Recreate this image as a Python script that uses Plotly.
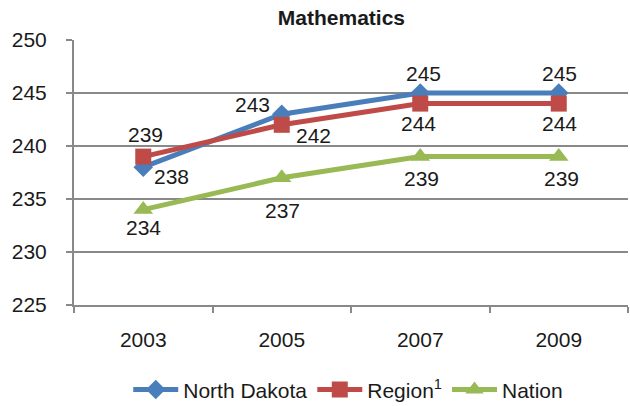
import plotly.graph_objects as go

years = ["2003", "2005", "2007", "2009"]
north_dakota = [238, 243, 245, 245]
region = [239, 242, 244, 244]
nation = [234, 237, 239, 239]
y_ticks = [225, 230, 235, 240, 245, 250]

# label offsets in pixels (x, y) relative to each point
nd_off = [(28, -9), (-29, 10), (3, 20), (1, 20)]
rg_off = [(2, 22), (32, -11), (-2, -20), (1, -20)]
na_off = [(0, -18), (1, -33), (1, -22), (3, -22)]

FONT = "Liberation Sans, Arial, sans-serif"
FS = 21
TXT = "#1a1a1a"

series = [
    ("North Dakota", north_dakota, "#4A7EBB", "diamond", 15, nd_off),
    ("Region<sup>1</sup>", region, "#BE4B48", "square", 16, rg_off),
    ("Nation", nation, "#98B954", "triangle-up", 17, na_off),
]

fig = go.Figure()
annotations = []
for name, vals, color, sym, size, offs in series:
    fig.add_trace(go.Scatter(
        x=years, y=vals, name=name, mode="lines+markers",
        line=dict(color=color, width=5),
        marker=dict(symbol=sym, size=size, color=color),
    ))
    for i, (yv, (dx, dy)) in enumerate(zip(vals, offs)):
        annotations.append(dict(
            x=i, y=yv, xref="x", yref="y", text=str(yv), showarrow=False,
            xshift=dx, yshift=dy, font=dict(size=FS, family=FONT, color=TXT),
        ))

fig.update_layout(
    width=630, height=406,
    margin=dict(l=74, r=2, t=40, b=101, autoexpand=False),
    paper_bgcolor="white", plot_bgcolor="white",
    font=dict(family=FONT, size=FS, color=TXT),
    title=dict(text="<b>Mathematics</b>", x=0.542, xanchor="center", y=0.957, yanchor="middle",
               font=dict(size=21, family=FONT, color=TXT)),
    showlegend=True,
    legend=dict(orientation="h", x=0.495, xanchor="center", y=-0.32, yanchor="middle",
                font=dict(size=FS, family=FONT, color=TXT),
                itemwidth=45, entrywidth=0, traceorder="normal"),
    annotations=annotations,
)
fig.update_xaxes(
    type="category", range=[-0.5, 3.5], automargin=False,
    showline=True, linecolor="#898989", linewidth=2,
    showgrid=False, tickson="boundaries", ticks="outside", ticklen=6,
    tickcolor="#898989", tickwidth=1.5, ticklabelstandoff=15,
    tickfont=dict(size=FS, family=FONT, color=TXT),
)
fig.update_yaxes(
    range=[225, 250], tickvals=y_ticks, automargin=False,
    showline=True, linecolor="#898989", linewidth=2,
    showgrid=True, gridcolor="#898989", gridwidth=1.5,
    ticks="outside", ticklen=6, tickcolor="#898989", tickwidth=1.5,
    ticklabelstandoff=15, zeroline=False,
    tickfont=dict(size=FS, family=FONT, color=TXT),
)

fig.write_html("out.html", config={"displayModeBar": False},
               post_script="document.body.style.margin='0';document.body.style.padding='0';")
